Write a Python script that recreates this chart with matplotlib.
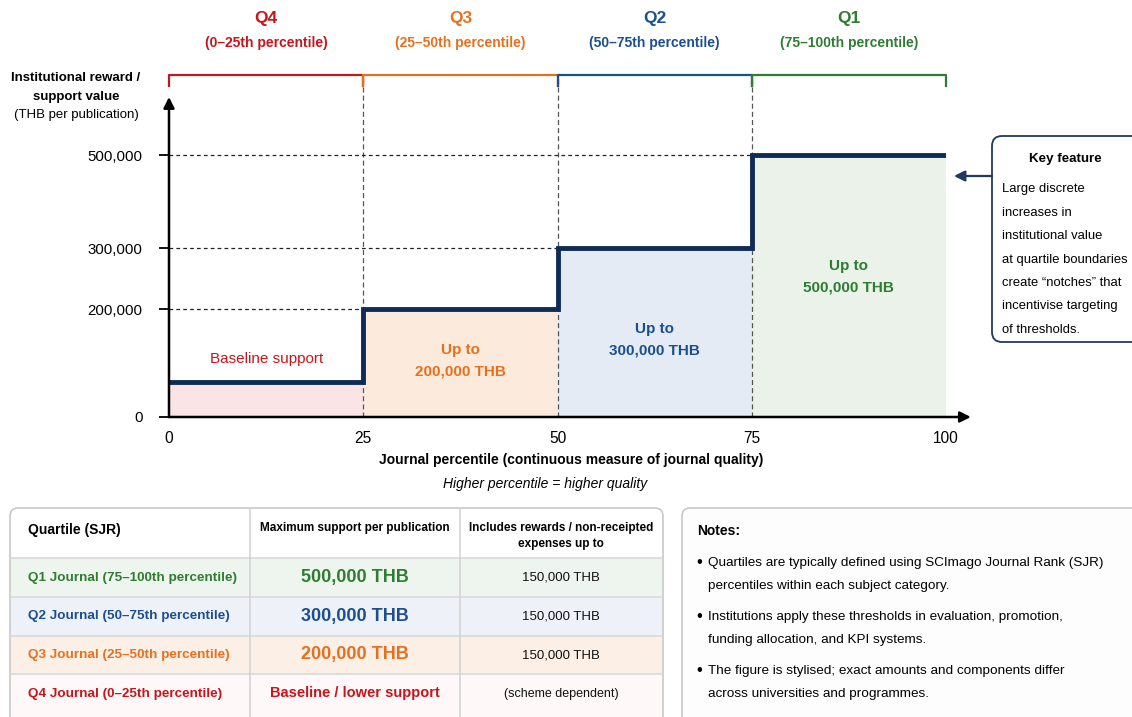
import numpy as np
import matplotlib
matplotlib.use("Agg")
import matplotlib.pyplot as plt
from matplotlib.patches import FancyBboxPatch, Rectangle
from matplotlib.transforms import blended_transform_factory
from matplotlib.ticker import FuncFormatter, NullLocator

plt.rcParams['font.family'] = ['Liberation Sans', 'DejaVu Sans']

W, H = 1132, 717

# ---- data ----
quartiles = ['Q4', 'Q3', 'Q2', 'Q1']
ranges = ['(0–25th percentile)', '(25–50th percentile)', '(50–75th percentile)', '(75–100th percentile)']
edges = [0, 25, 50, 75, 100]
support = [65000, 200000, 300000, 500000]   # baseline is stylised (unlabelled)
yticks = [0, 200000, 300000, 500000]
xticks = [0, 25, 50, 75, 100]
region_text = ['Baseline support', 'Up to\n200,000 THB', 'Up to\n300,000 THB', 'Up to\n500,000 THB']

table_header = ['Quartile (SJR)', 'Maximum support per publication', 'Includes rewards / non-receipted\nexpenses up to']
table_quart = ['Q1 Journal (75–100th percentile)', 'Q2 Journal (50–75th percentile)',
               'Q3 Journal (25–50th percentile)', 'Q4 Journal (0–25th percentile)']
table_max = ['500,000 THB', '300,000 THB', '200,000 THB', 'Baseline / lower support']
table_incl = ['150,000 THB', '150,000 THB', '150,000 THB', '(scheme dependent)']

notes = ['Quartiles are typically defined using SCImago Journal Rank (SJR)\npercentiles within each subject category.',
         'Institutions apply these thresholds in evaluation, promotion,\nfunding allocation, and KPI systems.',
         'The figure is stylised; exact amounts and components differ\nacross universities and programmes.']
key_lines = ['Large discrete', 'increases in', 'institutional value', 'at quartile boundaries',
             'create \u201cnotches\u201d that', 'incentivise targeting', 'of thresholds.']

# ---- styles ----
colors = ['#c4161c', '#e5711d', '#1c4f8f', '#2e7d32']   # Q4..Q1
fills = ['#fbe4e6', '#fcebdc', '#e5ebf4', '#eaf2ea']
row_fills = ['#eef4ee', '#eef2f8', '#fcefe6', '#fef8f8']
navy = '#0f2c55'

# stylised value axis (piecewise linear)
knots_v = np.array([0, 200000, 300000, 500000, 700000, 1e7])
knots_p = np.array([0, 108, 169, 262, 355, 355 + (1e7 - 700000) * 93 / 200000])
fwd = lambda v: np.interp(v, knots_v, knots_p)
inv = lambda p: np.interp(p, knots_p, knots_v)

fig = plt.figure(figsize=(W / 100, H / 100), dpi=100)

# overlay in pixel coords for boxes / free text
ov = fig.add_axes([0, 0, 1, 1])
ov.set_xlim(0, W)
ov.set_ylim(H, 0)
ov.axis('off')
ov.set_zorder(0)

ax = fig.add_axes([169 / W, 1 - 417 / H, 777 / W, 320 / H])
ax.set_zorder(1)
ax.patch.set_alpha(0)
ax.set_yscale('function', functions=(fwd, inv))
ax.set_xlim(0, 100)
ax.set_ylim(0, 625000)
for s in ax.spines.values():
    s.set_visible(False)

# region fills
for i in range(4):
    ax.fill_between([edges[i], edges[i + 1]], 0, support[i], color=fills[i], lw=0, zorder=1)

bt = blended_transform_factory(ax.transData, ax.transAxes)
top_y = (417 - 75) / 320
# vertical dashed boundaries
for e in edges[1:4]:
    ax.plot([e, e], [0, top_y], transform=bt, clip_on=False, color='#555555',
            lw=0.9, ls=(0, (4, 2.5)), zorder=2)
# horizontal dashed guides
for i in range(1, 4):
    ax.plot([0, edges[i]], [support[i], support[i]], color='#222222', lw=0.9,
            ls=(0, (3, 2.5)), zorder=2)

# step function
ax.step(edges, support + [support[-1]], where='post', color=navy, lw=3.5, zorder=4,
        solid_joinstyle='miter')

# axis arrows
ax.annotate('', xy=(103.2, 0), xytext=(0, 0),
            arrowprops=dict(arrowstyle='-|>', lw=1.8, color='black', mutation_scale=16,
                            shrinkA=0, shrinkB=0), annotation_clip=False, zorder=5)
ax.annotate('', xy=(0, 625000), xytext=(0, 0),
            arrowprops=dict(arrowstyle='-|>', lw=1.8, color='black', mutation_scale=16,
                            shrinkA=0, shrinkB=0), annotation_clip=False, zorder=5)

ax.set_yticks(yticks)
ax.yaxis.set_major_formatter(FuncFormatter(lambda v, p: f'{int(round(v)):,}'))
ax.yaxis.set_minor_locator(NullLocator())
ax.tick_params(axis='y', length=7, width=1.3, labelsize=10.8, pad=12, color='black')
ax.set_xticks(xticks)
ax.tick_params(axis='x', length=0, labelsize=11.2, pad=10)

# quartile brackets and headings
bf = blended_transform_factory(ax.transData, fig.transFigure)
for i in range(4):
    e0, e1 = edges[i], edges[i + 1]
    ax.plot([e0, e0, e1, e1], [top_y - 0.035, top_y, top_y, top_y - 0.035], transform=bt,
            clip_on=False, color=colors[i], lw=1.6, zorder=3)
    xm = (e0 + e1) / 2
    ax.text(xm, 1 - 19 / H, quartiles[i], transform=bf, ha='center', va='center',
            fontsize=12.5, fontweight='bold', color=colors[i])
    ax.text(xm, 1 - 43 / H, ranges[i], transform=bf, ha='center', va='center',
            fontsize=10, fontweight='bold', color=colors[i])

# region labels
ax.text(12.5, 107000, region_text[0], ha='center', va='center', fontsize=11,
        color=colors[0], zorder=6)
ax.text(37.5, 104000, region_text[1], ha='center', va='center', fontsize=11,
        fontweight='bold', color=colors[1], linespacing=1.65, zorder=6)
ax.text(62.5, 143000, region_text[2], ha='center', va='center', fontsize=11,
        fontweight='bold', color=colors[2], linespacing=1.65, zorder=6)
ax.text(87.5, 253000, region_text[3], ha='center', va='center', fontsize=11,
        fontweight='bold', color=colors[3], linespacing=1.65, zorder=6)

# axis titles
ov.text(76, 78, 'Institutional reward /', ha='center', va='center', fontsize=9.5, fontweight='bold')
ov.text(76, 97, 'support value', ha='center', va='center', fontsize=9.5, fontweight='bold')
ov.text(76, 115, '(THB per publication)', ha='center', va='center', fontsize=9.5)
ov.text(571, 460, 'Journal percentile (continuous measure of journal quality)', ha='center',
        va='center', fontsize=10, fontweight='bold')
ov.text(545, 484, 'Higher percentile = higher quality', ha='center', va='center',
        fontsize=10, style='italic')

# key feature box
ov.add_patch(FancyBboxPatch((992, 136), 160, 206, boxstyle='round,pad=0,rounding_size=10',
                            fc='white', ec='#1f3a60', lw=1.3, clip_on=False))
ov.text(1065, 159, 'Key feature', ha='center', va='center', fontsize=9.6, fontweight='bold')
for j, line in enumerate(key_lines):
    ov.text(1002, 189 + j * 23.5, line, ha='left', va='center', fontsize=9.4)
ov.annotate('', xy=(954, 176), xytext=(992, 176),
            arrowprops=dict(arrowstyle='-|>', lw=1.6, color='#1f3a60', mutation_scale=16,
                            shrinkA=0, shrinkB=0))

# table
col_x = [10, 250, 460, 663]
row_y = [508, 558, 597, 636, 674, 730]
ov.add_patch(FancyBboxPatch((10, 508), 653, 230, boxstyle='round,pad=0,rounding_size=8',
                            fc='white', ec='#c8c8c8', lw=1.2))
for r in range(4):
    ov.add_patch(Rectangle((11, row_y[r + 1]), 651, row_y[r + 2] - row_y[r + 1],
                           fc=row_fills[r], ec='none'))
for y in row_y[1:5]:
    ov.plot([11, 662], [y, y], color='#d9d9d9', lw=1.2)
for x in col_x[1:3]:
    ov.plot([x, x], [509, 717], color='#d4d4d4', lw=1.2)

ov.text(28, 530, table_header[0], ha='left', va='center', fontsize=10, fontweight='bold')
ov.text(355, 528, table_header[1], ha='center', va='center', fontsize=8.5, fontweight='bold')
ov.text(561, 536, table_header[2], ha='center', va='center', fontsize=8.5, fontweight='bold',
        linespacing=1.5)
q_colors = colors[::-1]
for r in range(4):
    yc = (row_y[r + 1] + min(row_y[r + 2], 713)) / 2
    ov.text(28, yc, table_quart[r], ha='left', va='center', fontsize=9.7, fontweight='bold',
            color=q_colors[r])
    ov.text(355, yc, table_max[r], ha='center', va='center',
            fontsize=13 if r < 3 else 10.5, fontweight='bold', color=q_colors[r])
    ov.text(561, yc, table_incl[r], ha='center', va='center', fontsize=9.5 if r < 3 else 9,
            color='#111111')

# notes box
ov.add_patch(FancyBboxPatch((682, 508), 470, 230, boxstyle='round,pad=0,rounding_size=8',
                            fc='#fdfdfd', ec='#c8c8c8', lw=1.2))
ov.text(697, 531, 'Notes:', ha='left', va='center', fontsize=10, fontweight='bold')
for k, note in enumerate(notes):
    y0 = 565 + k * 54
    ov.text(696, y0 - 3, '\u2022', ha='left', va='center', fontsize=12)
    ov.text(708, y0 - 8, note, ha='left', va='top', fontsize=9.7, linespacing=2.2)

fig.savefig('out.png', dpi=100)
